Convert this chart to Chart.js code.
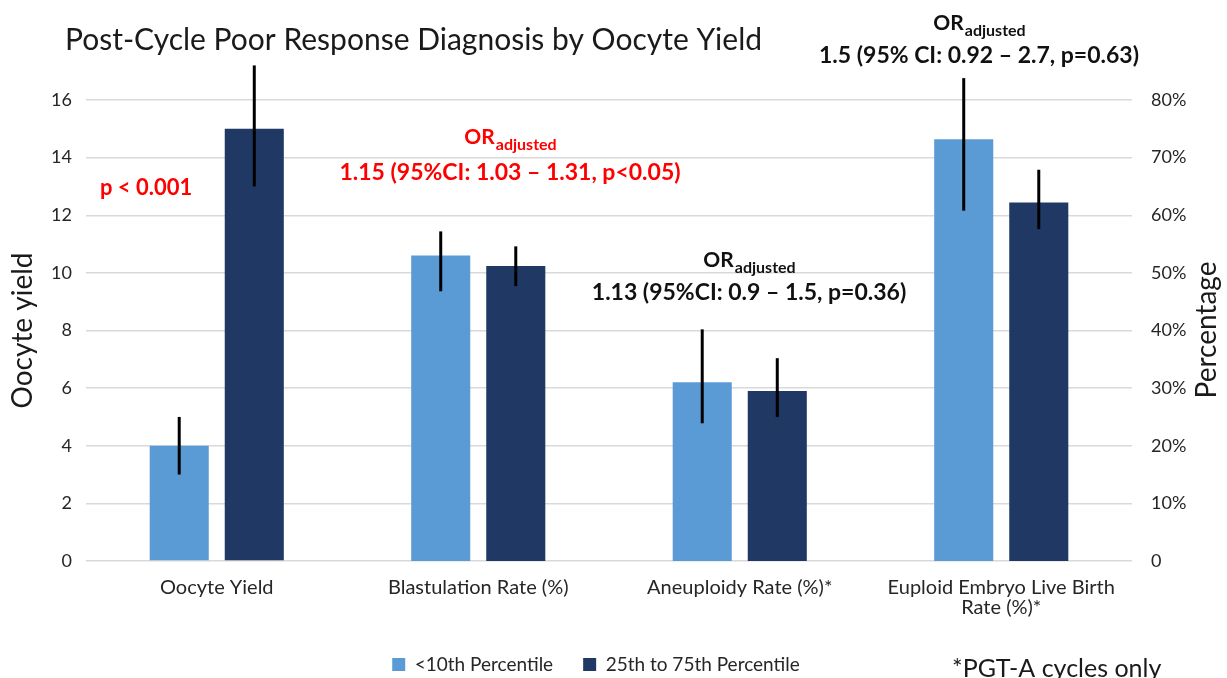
<!DOCTYPE html>
<html>
<head>
<meta charset="utf-8">
<script src="https://cdn.jsdelivr.net/npm/chart.js@4"></script>
<style>
  html, body { margin: 0; padding: 0; background: #fff; }
  #wrap { width: 1227px; height: 678px; }
</style>
</head>
<body>
<div id="wrap"><canvas id="chart"></canvas></div>
<script>
const categories = ['Oocyte Yield', 'Blastulation Rate (%)', 'Aneuploidy Rate (%)*', ['Euploid Embryo Live Birth', 'Rate (%)*']]

// oocyte yield goes on the left axis, the rates on the right axis
const lowYield = [4, null, null, null]
const highYield = [15, null, null, null]
const lowPct = [null, 53, 31, 73.2]
const highPct = [null, 51.2, 29.5, 62.2]

// error bar ranges [low, high]
const lowYieldErr = [[3, 5], null, null, null]
const highYieldErr = [[13, 17.2], null, null, null]
const lowPctErr = [null, [46.8, 57.2], [23.9, 40.2], [60.8, 83.8]]
const highPctErr = [null, [47.7, 54.6], [25, 35.2], [57.6, 67.9]]

const yieldTicks = [0, 2, 4, 6, 8, 10, 12, 14, 16]
const pctTicks = [0, 10, 20, 30, 40, 50, 60, 70, 80]

const lightBlue = '#5B9BD5'
const darkBlue = '#203864'
const fontName = 'Lato'

const errorBars = {
    id: 'errorBars',
    afterDatasetsDraw(chart) {
        const ctx = chart.ctx
        ctx.save()
        ctx.strokeStyle = '#000'
        ctx.lineWidth = 3
        chart.data.datasets.forEach((ds, i) => {
            const meta = chart.getDatasetMeta(i)
            const scale = chart.scales[ds.yAxisID]
            ds.errors.forEach((err, j) => {
                if (!err) return
                const x = meta.data[j].x
                ctx.beginPath()
                ctx.moveTo(x, scale.getPixelForValue(err[0]))
                ctx.lineTo(x, scale.getPixelForValue(err[1]))
                ctx.stroke()
            })
        })
        ctx.restore()
    }
}

function orLabel(ctx, cx, y, color) {
    ctx.fillStyle = color
    ctx.font = `bold 21px ${fontName}`
    const w1 = ctx.measureText('OR').width
    ctx.font = `bold 16px ${fontName}`
    const w2 = ctx.measureText('adjusted').width
    const x0 = cx - (w1 + w2) / 2
    ctx.textAlign = 'left'
    ctx.font = `bold 21px ${fontName}`
    ctx.fillText('OR', x0, y)
    ctx.font = `bold 16px ${fontName}`
    ctx.fillText('adjusted', x0 + w1 + 1, y + 6)
}

const annotations = {
    id: 'annotations',
    afterDraw(chart) {
        const ctx = chart.ctx
        ctx.save()
        ctx.textBaseline = 'alphabetic'

        // title
        ctx.fillStyle = '#1a1a1a'
        ctx.font = `30px ${fontName}`
        ctx.textAlign = 'left'
        ctx.fillText('Post-Cycle Poor Response Diagnosis by Oocyte Yield', 65, 50)

        // right axis title, reads bottom to top
        ctx.save()
        ctx.translate(1216, 330)
        ctx.rotate(-Math.PI / 2)
        ctx.textAlign = 'center'
        ctx.font = `28px ${fontName}`
        ctx.fillStyle = '#1a1a1a'
        ctx.fillText('Percentage', 0, 0)
        ctx.restore()

        // stats
        ctx.fillStyle = '#FF0000'
        ctx.font = `bold 22px ${fontName}`
        ctx.textAlign = 'left'
        ctx.fillText('p < 0.001', 100, 195)

        orLabel(ctx, 510, 144, '#FF0000')
        ctx.fillStyle = '#FF0000'
        ctx.font = `bold 23px ${fontName}`
        ctx.textAlign = 'center'
        ctx.fillText('1.15 (95%CI: 1.03 \u2013 1.31, p<0.05)', 510, 180)

        orLabel(ctx, 749, 267, '#111')
        ctx.fillStyle = '#111'
        ctx.font = `bold 23px ${fontName}`
        ctx.textAlign = 'center'
        ctx.fillText('1.13 (95%CI: 0.9 \u2013 1.5, p=0.36)', 749, 300)

        orLabel(ctx, 979, 30, '#111')
        ctx.fillStyle = '#111'
        ctx.font = `bold 23px ${fontName}`
        ctx.textAlign = 'center'
        ctx.fillText('1.5 (95% CI: 0.92 \u2013 2.7, p=0.63)', 979, 63)

        // footnote
        ctx.fillStyle = '#1a1a1a'
        ctx.font = `25px ${fontName}`
        ctx.textAlign = 'left'
        ctx.fillText('*PGT-A cycles only', 952, 677)
        ctx.restore()
    }
}

const chart = new Chart(
    document.getElementById('chart'),
    {
        type: 'bar',
        data: {
            labels: categories,
            datasets: [
                { label: '<10th Percentile', data: lowYield, errors: lowYieldErr, yAxisID: 'y', backgroundColor: lightBlue },
                { label: '25th to 75th Percentile', data: highYield, errors: highYieldErr, yAxisID: 'y', backgroundColor: darkBlue },
                { label: '<10th Percentile', data: lowPct, errors: lowPctErr, yAxisID: 'y1', backgroundColor: lightBlue },
                { label: '25th to 75th Percentile', data: highPct, errors: highPctErr, yAxisID: 'y1', backgroundColor: darkBlue },
            ]
        },
        options: {
            responsive: true,
            maintainAspectRatio: false,
            animation: false,
            layout: { padding: { top: 100, left: 0, right: 35, bottom: -6 } },
            datasets: {
                bar: { skipNull: true, categoryPercentage: 0.574, barPercentage: 0.787 }
            },
            plugins: {
                title: { display: false },
                tooltip: { enabled: false },
                legend: {
                    position: 'bottom',
                    labels: {
                        filter: item => item.datasetIndex < 2,
                        boxWidth: 13,
                        boxHeight: 13,
                        padding: 30,
                        color: '#262626',
                        font: { family: fontName, size: 19 }
                    }
                }
            },
            scales: {
                x: {
                    grid: { display: false },
                    border: { display: false },
                    ticks: {
                        color: '#262626',
                        padding: 9,
                        maxRotation: 0,
                        autoSkip: false,
                        font: { family: fontName, size: 20, lineHeight: 1.0 }
                    },
                    afterFit: scale => { scale.height = 64 }
                },
                y: {
                    position: 'left',
                    min: 0,
                    max: 16,
                    afterBuildTicks: axis => { axis.ticks = yieldTicks.map(v => ({ value: v })) },
                    grid: { color: '#d9d9d9', lineWidth: 1.5, drawTicks: false },
                    border: { display: false },
                    ticks: {
                        color: '#262626',
                        padding: 14,
                        font: { family: fontName, size: 18 }
                    },
                    title: {
                        display: true,
                        text: 'Oocyte yield',
                        color: '#1a1a1a',
                        padding: { top: 6, bottom: 0 },
                        font: { family: fontName, size: 28 }
                    },
                    afterFit: scale => { scale.width = 86 }
                },
                y1: {
                    position: 'right',
                    min: 0,
                    max: 80,
                    afterBuildTicks: axis => { axis.ticks = pctTicks.map(v => ({ value: v })) },
                    grid: { display: false },
                    border: { display: false },
                    ticks: {
                        color: '#262626',
                        padding: 11,
                        font: { family: fontName, size: 18 },
                        callback: v => v === 0 ? '0' : v + '%'
                    },
                    afterFit: scale => { scale.width = 60 }
                }
            }
        },
        plugins: [errorBars, annotations]
    }
)
</script>
</body>
</html>
